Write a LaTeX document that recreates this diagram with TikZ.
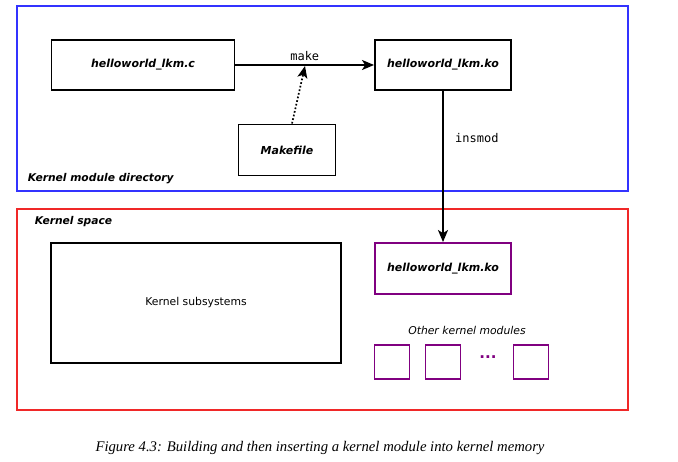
\documentclass[tikz,border=0pt]{standalone}
\usepackage{fontspec}
\setsansfont{DejaVu Sans}
\setmonofont{DejaVu Sans Mono}
\setmainfont{Liberation Serif}
\usetikzlibrary{positioning,arrows.meta}

\definecolor{dirblue}{RGB}{51,51,255}
\definecolor{spacered}{RGB}{240,40,40}
\definecolor{modpurple}{RGB}{128,0,128}

\tikzset{
  file/.style={draw,line width=1.9pt,font=\sffamily\bfseries\itshape\fontsize{11}{13}\selectfont},
  lkm/.style={file,draw=modpurple},
  frame/.style={draw,line width=2pt,inner sep=0pt},
  cmd/.style={font=\ttfamily\fontsize{12}{14}\selectfont},
  tag/.style={font=\sffamily\bfseries\itshape\fontsize{10.7}{12}\selectfont,anchor=west,inner sep=0pt}
}

\begin{document}
\begin{tikzpicture}[x=1pt,y=-1pt,>={Stealth[length=12pt,width=10pt,inset=3pt]},on grid,auto,line width=1.7pt]
    \useasboundingbox (0,0) rectangle (678,462);

    % module directory
    \node[frame,draw=dirblue,minimum width=611,minimum height=185] (moddir) at (322.5,98.5) {};
    \node[tag] (moddirtag) at (27,179) {Kernel module directory};
    \node[file,minimum width=183,minimum height=50] (src) at (143,65) {helloworld\_lkm.c};
    \node[file,minimum width=136,minimum height=50] (ko) [right=300 of src] {helloworld\_lkm.ko};
    \node[file,minimum width=97,minimum height=51] (mk) at (287,150) {Makefile};
    \coordinate (mkin) at (305,66);

    % kernel space
    \node[frame,draw=spacered,minimum width=611,minimum height=201] (kspace) at (322.5,309.5) {};
    \node[tag] (kspacetag) at (34,222) {Kernel space};
    \node[file,font=\sffamily\fontsize{10.8}{12}\selectfont,minimum width=290,minimum height=120] (subsys) at (196,303) {Kernel subsystems};
    \node[lkm,minimum width=136,minimum height=51] (ko2) at (443,268.5) {helloworld\_lkm.ko};
    \node[font=\sffamily\itshape\fontsize{10.8}{12}\selectfont] (others) at (467,330) {Other kernel modules};
    \foreach \x/\n in {392/a,443/b,531/c}
      \node[lkm,minimum width=35,minimum height=34] (m\n) at (\x,362) {};
    \node[text=modpurple,font=\sffamily\bfseries\fontsize{15}{15}\selectfont] (dots) at (488,357) {...};

    \path[->]
    (src) edge node[cmd] {make} (ko)
    (ko) edge node[cmd,pos=0.31,xshift=8pt] {insmod} (ko2);
    \draw[->,dotted] ([xshift=5]mk.north) -- (mkin);

    \node[font=\rmfamily\itshape\fontsize{14.7}{17}\selectfont] (caption) at (320,448) {Figure 4.3: Building and then inserting a kernel module into kernel memory};
\end{tikzpicture}
\end{document}
